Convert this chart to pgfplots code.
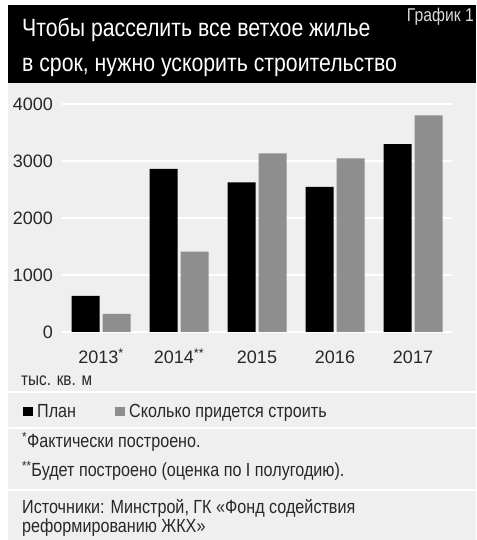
\documentclass[border=0pt]{standalone}
\usepackage{fontspec}
\setmainfont{Liberation Sans}[FakeStretch=0.85]
\newfontfamily\numfont{Liberation Sans}
\usepackage{pgfplots}
\pgfplotsset{compat=1.18}

\definecolor{bgc}{HTML}{EFEFEF}
\definecolor{barg}{HTML}{8E8E8E}
\definecolor{txt}{HTML}{282828}

\newcommand{\fs}[1]{\fontsize{#1}{#1}\selectfont}

\begin{document}
\begin{tikzpicture}[x=1pt,y=1pt]
\useasboundingbox (0pt,0pt) rectangle (476pt,540pt);
\fill[white] (0pt,0pt) rectangle (476pt,540pt);
\fill[bgc] (8pt,0pt) rectangle (476pt,457pt);
\fill[black] (8pt,457pt) rectangle (476pt,535pt);
% separators
\draw[white, line width=1.5pt] (8pt,148pt) -- (476pt,148pt);
\draw[white, line width=1.5pt] (8pt,112pt) -- (476pt,112pt);
\draw[white, line width=1.5pt] (8pt,50pt) -- (476pt,50pt);

% title
\node[anchor=base west, text=white, inner sep=0pt, font=\fs{25}] at (22pt,503pt) {Чтобы расселить все ветхое жилье};
\node[anchor=base west, text=white, inner sep=0pt, font=\fs{25}] at (22pt,468pt) {в срок, нужно ускорить строительство};
\node[anchor=base east, text=white!85!black, inner sep=0pt, font=\fs{18.5}] at (474pt,518pt) {График 1};

\begin{axis}[
    at={(62pt,208pt)}, anchor=south west,
    scale only axis,
    width=390pt, height=228pt,
    xmin=-0.5, xmax=4.5,
    ymin=0, ymax=4000,
    ybar=3pt, bar width=28pt,
    axis line style={draw=none},
    major tick length=0pt,
    ymajorgrids,
    major grid style={white, line width=1.2pt},
    xtick={0,1,2,3,4},
    xticklabels={2013\textsuperscript{*}, 2014\textsuperscript{**}, 2015, 2016, 2017},
    ytick={0,1000,2000,3000,4000},
    /pgf/number format/assume math mode=true,
    /pgf/number format/set thousands separator={},
    ticklabel style={text=txt, font=\numfont\fs{18}},
    yticklabel style={inner sep=0pt, xshift=-9pt},
    xticklabel style={inner sep=0pt, anchor=base, yshift=-32pt},
    clip=false,
]
% План
\addplot[fill=black, draw=none] coordinates {
    (0,632) (1,2860) (2,2626) (3,2544) (4,3298)
};
% Сколько придется строить
\addplot[fill=barg, draw=none] coordinates {
    (0,316) (1,1409) (2,3135) (3,3047) (4,3802)
};
\end{axis}

% units
\node[anchor=base west, text=txt, inner sep=0pt, font=\fs{18}] at (21pt,154pt) {тыс. кв. м};
% legend
\fill[black] (23pt,124pt) rectangle (33pt,133pt);
\node[anchor=base west, text=txt, inner sep=0pt, font=\fs{19}] at (37pt,122pt) {План};
\fill[barg] (115pt,124pt) rectangle (125pt,133pt);
\node[anchor=base west, text=txt, inner sep=0pt, font=\fs{19}] at (129pt,122pt) {Сколько придется строить};
% notes
\node[anchor=base west, text=txt, inner sep=0pt, font=\fs{19}] at (22pt,92pt) {\textsuperscript{*}Фактически построено.};
\node[anchor=base west, text=txt, inner sep=0pt, font=\fs{19}] at (22pt,63pt) {\textsuperscript{**}Будет построено (оценка по I полугодию).};
\node[anchor=base west, text=txt, inner sep=0pt, font=\fs{19}] at (22pt,27pt) {Источники: Минстрой, ГК «Фонд содействия};
\node[anchor=base west, text=txt, inner sep=0pt, font=\fs{19}] at (22pt,7pt) {реформированию ЖКХ»};
\end{tikzpicture}
\end{document}
